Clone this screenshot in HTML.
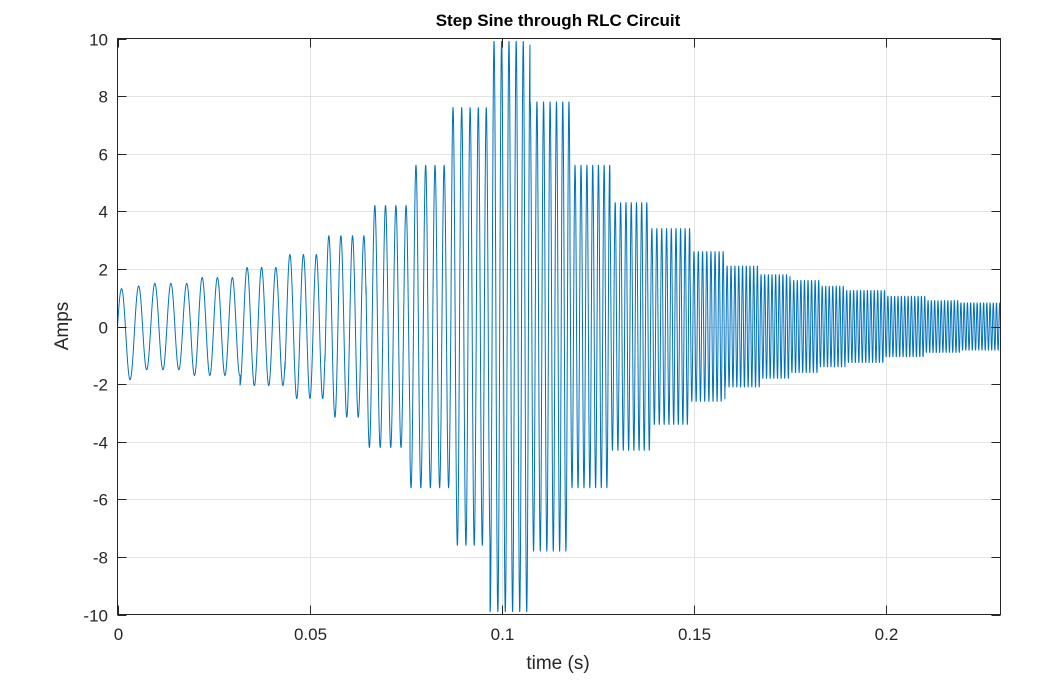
<!DOCTYPE html>
<html><head><meta charset="utf-8"><style>
html,body{margin:0;padding:0;background:#fff;}
svg{display:block;font-family:"Liberation Sans",sans-serif;}
</style></head><body>
<svg id="s" width="1064" height="684" xmlns="http://www.w3.org/2000/svg">
<rect width="1064" height="684" fill="#fff"/>
<g id="grid" stroke="#e3e3e3" stroke-width="1"></g>
<path id="sig" fill="none" stroke="#0072BD" stroke-width="1" stroke-linejoin="round"/>
<rect x="117.5" y="38.5" width="883" height="576" fill="none" stroke="#262626" stroke-width="1"/>
<g id="ticks" stroke="#262626" stroke-width="1"></g>
<g id="labels" fill="#262626" font-size="17"></g>
<text x="558" y="26" text-anchor="middle" font-weight="bold" font-size="17" fill="#000">Step Sine through RLC Circuit</text>
<text x="558" y="669" text-anchor="middle" font-size="19" fill="#262626">time (s)</text>
<text transform="translate(68,326) rotate(-90)" text-anchor="middle" font-size="19" fill="#262626">Amps</text>
</svg>
<script>
var X0=117.5,X1=1000.5,Y0=38.5,Y1=614.5,TMAX=0.2297;
function px(t){return X0+(t/TMAX)*(X1-X0);}
function py(v){return Y1-(v+10)/20*(Y1-Y0);}
var ns="http://www.w3.org/2000/svg";
var g=document.getElementById('grid'),tk=document.getElementById('ticks'),lb=document.getElementById('labels');
function line(p,x1,y1,x2,y2){var l=document.createElementNS(ns,'line');l.setAttribute('x1',x1);l.setAttribute('y1',y1);l.setAttribute('x2',x2);l.setAttribute('y2',y2);p.appendChild(l);}
function txt(x,y,s,a){var t=document.createElementNS(ns,'text');t.setAttribute('x',x);t.setAttribute('y',y);t.setAttribute('text-anchor',a);t.textContent=s;lb.appendChild(t);}
for(var v=-10;v<=10;v+=2){var y=Math.round(py(v))+0.5;if(v>-10&&v<10)line(g,X0,y,X1,y);line(tk,X0,y,X0+9,y);line(tk,X1-9,y,X1,y);txt(108,y+6,String(v),'end');}
var xs=[0,0.05,0.1,0.15,0.2],xl=['0','0.05','0.1','0.15','0.2'];
for(var i=0;i<xs.length;i++){var x=Math.round(px(xs[i]))+0.5;if(i>0)line(g,x,Y0,x,Y1);line(tk,x,Y1,x,Y1-9);line(tk,x,Y0,x,Y0+9);txt(x,640,xl[i],'middle');}
var B=[117,191,240,285,325,366,410,451,490,530,570,610,650,690,725,760,790,820,845,885,925,960,1001];
var A=[1.5,1.7,2.05,2.5,3.15,4.2,5.6,7.6,9.9,7.8,5.6,4.3,3.4,2.6,2.1,1.8,1.6,1.4,1.25,1.05,0.9,0.82];
var FP=[117,285,420,467,655,750,925,1001],FV=[226,274,396,457,770,1040,1160,1200];
function interp(x,xa,ya){for(var i=0;i<xa.length-1;i++){if(x<=xa[i+1]){var r=(x-xa[i])/(xa[i+1]-xa[i]);return ya[i]+r*(ya[i+1]-ya[i]);}}return ya[ya.length-1];}
var d='',ph=0,N=24000,dt=TMAX/N;
for(var n=0;n<=N;n++){var t=n*dt;var x=px(t);var k=0;while(k<A.length-1&&x>=B[k+1])k++;
var f=interp(x,FP,FV);ph+=2*Math.PI*f*dt;
var a=A[k];var v=a*Math.sin(ph);
if(t<0.006){v+=-0.35*Math.sin(Math.PI*t/0.006);}
d+=(n?'L':'M')+x.toFixed(2)+' '+py(v).toFixed(2);}
document.getElementById('sig').setAttribute('d',d);
</script>
</body></html>
